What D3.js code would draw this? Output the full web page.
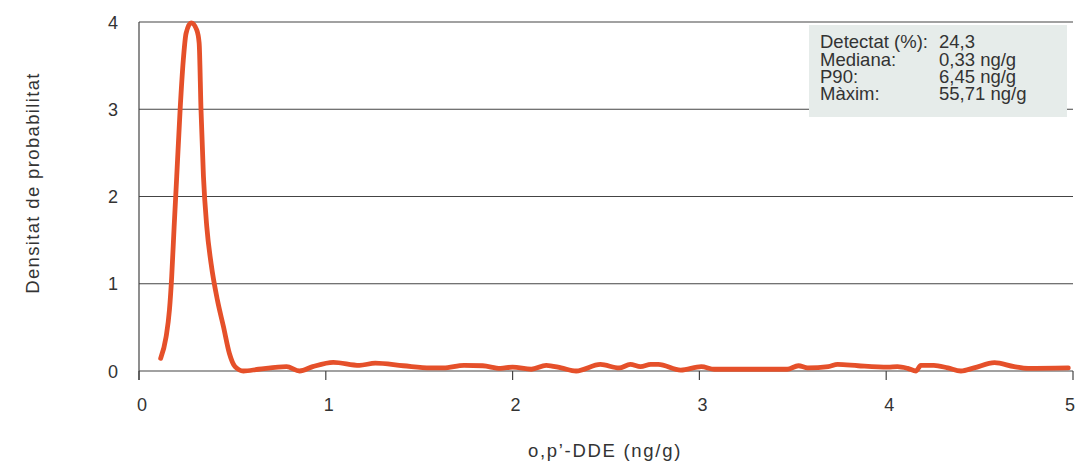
<!DOCTYPE html>
<html>
<head>
<meta charset="utf-8">
<script src="https://cdn.jsdelivr.net/npm/d3@7"></script>
<style>
  html, body { margin: 0; padding: 0; background: #ffffff; }
  svg { display: block; }
  text { font-family: "Liberation Sans", Arial, sans-serif; fill: #333; }
</style>
</head>
<body>
<svg id="chart" width="1077" height="466"></svg>
<script>
// ---- data ----
const densityX = [0.116, 0.145, 0.163, 0.175, 0.188, 0.202, 0.22, 0.237, 0.252, 0.279, 0.309, 0.322, 0.332, 0.345, 0.363, 0.386, 0.42, 0.452, 0.484, 0.514, 0.559, 0.64, 0.79, 0.86, 0.93, 1.04, 1.18, 1.265, 1.415, 1.56, 1.63, 1.74, 1.84, 1.935, 2.0, 2.1, 2.18, 2.26, 2.34, 2.47, 2.57, 2.63, 2.685, 2.74, 2.78, 2.9, 3.01, 3.08, 3.22, 3.47, 3.53, 3.58, 3.69, 3.74, 3.85, 4.01, 4.06, 4.115, 4.16, 4.185, 4.255, 4.33, 4.4, 4.47, 4.58, 4.685, 4.76, 4.975];
const densityY = [0.145, 0.39, 0.70, 1.08, 1.65, 2.23, 2.99, 3.56, 3.87, 3.99, 3.91, 3.76, 2.99, 2.23, 1.65, 1.23, 0.81, 0.51, 0.20, 0.05, 0.0, 0.02, 0.05, 0.0, 0.05, 0.10, 0.065, 0.09, 0.06, 0.035, 0.035, 0.065, 0.06, 0.03, 0.045, 0.02, 0.065, 0.035, 0.0, 0.075, 0.035, 0.075, 0.05, 0.075, 0.075, 0.01, 0.05, 0.02, 0.02, 0.02, 0.06, 0.035, 0.05, 0.075, 0.06, 0.045, 0.05, 0.03, 0.0, 0.065, 0.065, 0.035, 0.0, 0.035, 0.095, 0.05, 0.03, 0.035];
const xTicks = [0, 1, 2, 3, 4, 5];
const yTicks = [0, 1, 2, 3, 4];
const xTitle = "o,p\u2019-DDE (ng/g)";
const yTitle = "Densitat de probabilitat";
const statLabels = ["Detectat (%):", "Mediana:", "P90:", "M\u00e0xim:"];
const statValues = ["24,3", "0,33 ng/g", "6,45 ng/g", "55,71 ng/g"];

// ---- chart ----
const svg = d3.select("#chart");
const x = d3.scaleLinear().domain([0, 5]).range([139, 1073]);
const y = d3.scaleLinear().domain([0, 4]).range([371, 22]);

// gridlines
svg.append("g").selectAll("line").data(yTicks).join("line")
  .attr("x1", x(0)).attr("x2", x(5))
  .attr("y1", d => y(d)).attr("y2", d => y(d))
  .attr("stroke", "#444").attr("stroke-width", 1.2);

// y axis line
svg.append("line").attr("x1", x(0)).attr("x2", x(0))
  .attr("y1", y(4)).attr("y2", y(0) + 9)
  .attr("stroke", "#444").attr("stroke-width", 1.2);

// x ticks
svg.append("g").selectAll("line").data(xTicks).join("line")
  .attr("x1", d => x(d)).attr("x2", d => x(d))
  .attr("y1", y(0)).attr("y2", y(0) + 9)
  .attr("stroke", "#444").attr("stroke-width", 1.2);

// x tick labels
svg.append("g").selectAll("text").data(xTicks).join("text")
  .attr("x", d => Math.min(x(d) + 3, 1070)).attr("y", 411)
  .attr("text-anchor", "middle").attr("font-size", 18)
  .text(d => d);

// y tick labels
svg.append("g").selectAll("text").data(yTicks).join("text")
  .attr("x", 118).attr("y", d => y(d) + 6.5)
  .attr("text-anchor", "end").attr("font-size", 18)
  .text(d => d);

// legend box
const box = svg.append("g");
box.append("rect").attr("x", 809).attr("y", 25).attr("width", 258).attr("height", 92)
  .attr("fill", "#e6ecea");
box.selectAll("text.lab").data(statLabels).join("text").attr("class", "lab")
  .attr("x", 820).attr("y", (d, i) => 48.3 + i * 17.3)
  .attr("font-size", 18.5).text(d => d);
box.selectAll("text.val").data(statValues).join("text").attr("class", "val")
  .attr("x", 939).attr("y", (d, i) => 48.3 + i * 17.3)
  .attr("font-size", 18.5).text(d => d);

// density curve
const pts = densityX.map((d, i) => [d, densityY[i]]);
const line = d3.line().x(d => x(d[0])).y(d => y(d[1])).curve(d3.curveMonotoneX);
svg.append("path").datum(pts).attr("d", line)
  .attr("fill", "none").attr("stroke", "#e5502a").attr("stroke-width", 4.8)
  .attr("stroke-linecap", "round").attr("stroke-linejoin", "round");

// axis titles
svg.append("text").attr("x", 605).attr("y", 457)
  .attr("text-anchor", "middle").attr("font-size", 18.5)
  .style("letter-spacing", "1.7px").text(xTitle);
svg.append("text").attr("transform", "translate(39,183) rotate(-90)")
  .attr("text-anchor", "middle").attr("font-size", 18.5)
  .style("letter-spacing", "1.35px").text(yTitle);
</script>
</body>
</html>
